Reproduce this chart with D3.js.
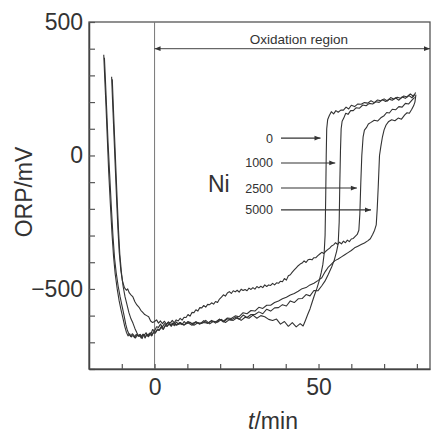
<!DOCTYPE html>
<html>
<head>
<meta charset="utf-8">
<script src="https://cdn.jsdelivr.net/npm/d3@7"></script>
<style>
  body { margin: 0; background: #fff; }
  svg { display: block; }
  text { font-family: "Liberation Sans", Arial, sans-serif; fill: #333; }
</style>
</head>
<body>
<div id="chart"></div>
<script>
// ORP vs time for different Ni additions, [t (min), ORP (mV)]
const ni0 = [
  [-15.5,377],[-15.2,290],[-14.8,180],[-14.4,60],[-14.0,-60],[-13.5,-180],[-13.0,-290],[-12.5,-380],
  [-12.0,-445],[-11.4,-500],[-10.8,-545],[-10.2,-580],[-9.6,-612],[-9.1,-640],[-8.6,-662],[-8.1,-676],
  [-7.6,-668],[-7.1,-680],[-6.6,-674],[-6.1,-683],[-5.6,-670],[-5.1,-676],[-4.6,-672],[-4.1,-684],
  [-3.6,-670],[-3.1,-673],[-2.6,-664],[-2.1,-676],[-1.6,-666],[-1.1,-668],[-0.6,-652],[0,-658],
  [0.6,-642],[1.2,-644],[1.8,-632],[2.4,-643],[3.0,-630],[3.6,-634],[4.2,-624],[4.8,-636],
  [5.4,-629],[6.0,-638],[6.6,-624],[7.2,-631],[7.8,-626],[8.4,-634],[9.0,-622],[9.6,-630],
  [10.8,-625],[12.0,-636],[13.2,-627],[14.4,-629],[15.6,-618],[16.8,-631],[18.0,-621],[19.2,-625],
  [20.4,-614],[21.6,-626],[22.8,-615],[24.0,-618],[25.2,-607],[26.4,-618],[27.6,-606],[28.8,-610],
  [30.0,-598],[31.2,-610],[32.4,-600],[33.6,-604],[34.8,-614],[36.0,-618],[37.2,-613],[38.4,-632],
  [39.6,-622],[40.8,-640],[42.0,-626],[43.2,-642],[44.4,-630],[45.3,-639],[46.0,-618],[46.7,-596],
  [47.4,-575],[48.1,-548],[48.8,-522],[49.5,-498],[50.2,-470],[50.8,-440],[51.3,-410],[51.7,-370],
  [52.0,-300],[52.2,-150],[52.35,0],[52.5,100],[52.8,135],[53.3,150],[53.9,164],[54.6,156],
  [55.3,168],[56.0,162],[56.8,170],[57.6,170],[58.4,181],[59.2,174],[60.0,188],[61.0,183],
  [62.0,193],[63.0,192],[64.0,198],[65.0,196],[66.0,205],[67.0,198],[68.0,208],[69.0,205],
  [70.0,212],[71.0,204],[72.0,217],[73.0,211],[74.0,218],[75.0,214],[76.0,223],[77.0,219],
  [78.0,231],[79.0,221],[79.6,236]
];
const ni1000 = [
  [-15.3,366],[-15.0,285],[-14.6,170],[-14.2,50],[-13.7,-70],[-13.2,-190],[-12.7,-300],[-12.2,-385],
  [-11.7,-440],[-11.1,-490],[-10.5,-530],[-9.9,-565],[-9.3,-600],[-8.8,-632],[-8.3,-655],[-7.8,-670],
  [-7.3,-678],[-6.8,-668],[-6.3,-674],[-5.8,-684],[-5.3,-672],[-4.8,-678],[-4.3,-675],[-3.8,-686],
  [-3.3,-670],[-2.8,-680],[-2.3,-670],[-1.8,-677],[-1.3,-664],[-0.8,-674],[-0.3,-660],[0.3,-662],
  [0.9,-650],[1.5,-653],[2.1,-640],[2.7,-650],[3.3,-636],[3.9,-640],[4.5,-630],[5.1,-640],
  [5.7,-629],[6.6,-634],[7.8,-626],[9.0,-636],[10.2,-622],[11.4,-630],[12.6,-624],[13.8,-632],
  [15.0,-619],[16.2,-629],[17.4,-620],[18.6,-624],[19.8,-613],[21.0,-624],[22.2,-612],[23.4,-616],
  [24.6,-607],[25.8,-614],[27.0,-598],[28.2,-607],[29.4,-596],[30.6,-596],[31.8,-586],[33.0,-593],
  [34.2,-576],[35.4,-583],[36.6,-571],[37.8,-570],[39.0,-559],[40.2,-564],[41.4,-545],[42.6,-551],
  [43.8,-537],[45.0,-536],[46.2,-521],[47.4,-526],[48.6,-506],[49.8,-507],[51.0,-488],[52.0,-470],
  [53.0,-445],[54.0,-418],[54.8,-392],[55.5,-360],[56.0,-330],[56.3,-250],[56.5,-100],[56.7,20],
  [56.9,100],[57.2,128],[57.7,140],[58.3,158],[59.0,154],[59.8,168],[60.6,168],[61.5,179],
  [62.5,177],[63.5,189],[64.5,186],[65.5,195],[66.5,193],[67.5,201],[68.5,199],[69.5,209],
  [70.5,202],[71.5,211],[72.5,207],[73.5,216],[74.5,207],[75.5,219],[76.5,214],[77.5,225],
  [78.5,216],[79.2,228]
];
const ni2500 = [
  [-13.1,295],[-12.8,200],[-12.4,80],[-12.0,-40],[-11.6,-160],[-11.2,-270],[-10.8,-360],[-10.3,-430],
  [-9.8,-470],[-9.2,-495],[-8.6,-505],[-8.2,-500],[-7.7,-515],[-7.2,-522],[-6.6,-530],[-6.0,-548],
  [-5.4,-560],[-4.8,-568],[-4.2,-580],[-3.6,-588],[-3.0,-596],[-2.4,-600],[-1.8,-604],[-1.2,-620],
  [-0.6,-626],[0,-622],[0.6,-616],[1.2,-628],[1.8,-620],[2.4,-630],[3.0,-621],[3.6,-632],
  [4.2,-624],[4.8,-628],[5.4,-618],[6.0,-627],[6.6,-616],[7.2,-620],[7.8,-610],[8.4,-617],
  [9.0,-606],[9.6,-607],[10.2,-596],[10.8,-602],[11.4,-588],[12.0,-589],[12.6,-578],[13.2,-583],
  [13.8,-570],[14.4,-571],[15.0,-562],[15.6,-568],[16.2,-558],[16.8,-559],[17.4,-552],[18.0,-557],
  [18.6,-547],[19.2,-551],[19.8,-538],[20.4,-531],[21.0,-522],[21.6,-527],[22.2,-515],[22.8,-510],
  [23.4,-517],[24.0,-507],[24.6,-511],[25.2,-505],[25.8,-512],[26.4,-501],[27.0,-506],[27.6,-502],
  [28.2,-507],[28.8,-497],[29.4,-502],[30.0,-495],[30.6,-501],[31.2,-491],[31.8,-496],[32.4,-490],
  [33.0,-495],[33.6,-485],[34.2,-491],[34.8,-485],[35.4,-487],[36.0,-479],[36.6,-485],[37.2,-477],
  [37.8,-479],[38.4,-471],[39.0,-473],[39.6,-461],[40.2,-467],[40.8,-451],[41.4,-447],[42.0,-437],
  [42.6,-429],[43.2,-421],[43.8,-413],[44.4,-407],[45.0,-403],[45.6,-395],[46.2,-401],[46.8,-391],
  [47.4,-389],[48.0,-391],[48.6,-383],[49.2,-383],[49.8,-375],[50.4,-369],[51.0,-363],[51.6,-367],
  [52.2,-359],[52.8,-353],[53.4,-347],[54.0,-339],[54.6,-335],[55.2,-327],[55.8,-333],[56.4,-325],
  [57.0,-331],[57.6,-321],[58.2,-327],[58.8,-317],[59.4,-323],[60.0,-313],[60.6,-311],[61.2,-303],
  [61.8,-296],[62.3,-280],[62.6,-220],[62.9,-100],[63.2,0],[63.6,70],[64.0,95],[64.6,104],
  [65.2,118],[66.0,124],[67.0,132],[68.0,129],[69.0,141],[70.0,149],[70.8,161],[71.6,159],
  [72.5,173],[73.5,171],[74.5,183],[75.5,181],[76.5,195],[77.5,193],[78.5,207],[79.3,218]
];
const ni5000 = [
  [-12.9,285],[-12.6,190],[-12.2,70],[-11.8,-50],[-11.4,-170],[-11.0,-280],[-10.6,-370],[-10.1,-440],
  [-9.6,-490],[-9.0,-530],[-8.4,-560],[-7.8,-590],[-7.2,-612],[-6.6,-628],[-6.0,-648],[-5.4,-664],
  [-4.9,-676],[-4.4,-670],[-3.9,-678],[-3.4,-673],[-2.9,-684],[-2.4,-671],[-1.9,-679],[-1.4,-670],
  [-0.9,-676],[-0.4,-664],[0.2,-666],[0.8,-654],[1.4,-656],[2.0,-644],[2.6,-652],[3.2,-638],
  [3.8,-640],[4.4,-630],[5.0,-639],[5.6,-628],[6.6,-636],[7.8,-630],[9.0,-634],[10.2,-627],
  [11.4,-636],[12.6,-623],[13.8,-630],[15.0,-626],[16.2,-628],[17.4,-618],[18.6,-628],[19.8,-614],
  [21.0,-621],[22.2,-609],[23.4,-611],[24.6,-601],[25.8,-604],[27.0,-589],[28.2,-593],[29.4,-581],
  [30.6,-583],[31.8,-569],[33.0,-573],[34.2,-561],[35.4,-561],[36.6,-551],[37.8,-545],[39.0,-537],
  [40.2,-531],[41.4,-523],[42.6,-517],[43.8,-509],[45.0,-499],[46.2,-495],[47.4,-485],[48.6,-479],
  [49.8,-469],[51.0,-458],[52.0,-436],[53.0,-418],[54.0,-406],[55.0,-394],[56.0,-388],[57.0,-380],
  [58.0,-372],[59.0,-364],[60.0,-356],[61.0,-346],[62.0,-340],[63.0,-334],[64.0,-328],[65.0,-320],
  [65.8,-312],[66.5,-296],[67.1,-280],[67.6,-260],[67.9,-200],[68.2,-120],[68.6,0],[69.0,33],
  [69.5,70],[70.0,96],[70.6,114],[71.3,126],[72.3,134],[73.3,130],[74.3,140],[75.3,136],
  [76.3,152],[77.0,160],[77.7,158],[78.4,172],[79.0,186],[79.4,200],[79.7,228]
];
const series = [ni0, ni1000, ni2500, ni5000];

// Ni labels, the ORP level of each arrow and the time it points to
const niLabels = ["0", "1000", "2500", "5000"];
const niArrowY = [65, -28, -122, -204];
const niArrowEnd = [50.6, 55.1, 61.7, 66.0];

const yTicks = [-800, -700, -600, -500, -400, -300, -200, -100, 0, 100, 200, 300, 400, 500];
const yLabels = [-500, 0, 500];
const xTicks = [-10, 0, 10, 20, 30, 40, 50, 60, 70, 80];
const xLabels = [0, 50];

const width = 432, height = 433;
const svg = d3.select("#chart").append("svg")
  .attr("width", width).attr("height", height);

const x = d3.scaleLinear().domain([-20, 84]).range([89, 430]);
const y = d3.scaleLinear().domain([-800, 500]).range([369, 22]);

const defs = svg.append("defs");
defs.append("marker").attr("id", "head")
  .attr("viewBox", "0 0 10 10").attr("refX", 10).attr("refY", 5)
  .attr("markerWidth", 7).attr("markerHeight", 6)
  .attr("markerUnits", "userSpaceOnUse").attr("orient", "auto-start-reverse")
  .append("path").attr("d", "M0,1 L10,5 L0,9 Z").attr("fill", "#333");

// frame
svg.append("rect")
  .attr("x", x(-20)).attr("y", y(500))
  .attr("width", x(84) - x(-20)).attr("height", y(-800) - y(500))
  .attr("fill", "none").attr("stroke", "#555").attr("stroke-width", 1.3);

// t = 0 line
svg.append("line")
  .attr("x1", x(0)).attr("x2", x(0)).attr("y1", y(500)).attr("y2", y(-800))
  .attr("stroke", "#777").attr("stroke-width", 1);

// axes
const yAxis = svg.append("g")
  .attr("transform", `translate(${x(-20)},0)`)
  .call(d3.axisLeft(y).tickValues(yTicks).tickSize(-6).tickSizeOuter(0).tickPadding(6)
    .tickFormat(d => yLabels.includes(d) ? d3.format("")(d).replace("-", "\u2212") : ""));
const xAxis = svg.append("g")
  .attr("transform", `translate(0,${y(-800)})`)
  .call(d3.axisBottom(x).tickValues(xTicks).tickSize(-5).tickSizeOuter(0).tickPadding(10)
    .tickFormat(d => xLabels.includes(d) ? d : ""));
[yAxis, xAxis].forEach(g => {
  g.select(".domain").attr("stroke", "#444").attr("stroke-width", 1.5);
  g.selectAll(".tick line").attr("stroke", "#555").attr("stroke-width", 1.2);
  g.selectAll(".tick text").attr("font-size", 23).attr("fill", "#333")
    .attr("font-family", "'Liberation Sans', Arial, sans-serif");
});

// oxidation region arrow
svg.append("line")
  .attr("x1", x(0)).attr("x2", x(84)).attr("y1", y(400)).attr("y2", y(400))
  .attr("stroke", "#444").attr("stroke-width", 1)
  .attr("marker-start", "url(#head)").attr("marker-end", "url(#head)");
svg.append("text")
  .attr("x", x(44)).attr("y", y(400) - 5)
  .attr("text-anchor", "middle").attr("font-size", 13.5)
  .text("Oxidation region");

// curves
const line = d3.line().x(d => x(d[0])).y(d => y(d[1]));
svg.append("g").selectAll("path").data(series).join("path")
  .attr("d", line)
  .attr("fill", "none").attr("stroke", "#333").attr("stroke-width", 1.1)
  .attr("stroke-linejoin", "round");

// Ni labels and arrows
svg.append("text").attr("x", 208).attr("y", 192).attr("font-size", 23).text("Ni");
niLabels.forEach((lab, i) => {
  svg.append("text")
    .attr("x", 273).attr("y", y(niArrowY[i]) + 4.5)
    .attr("text-anchor", "end").attr("font-size", 12.5)
    .text(lab);
  svg.append("line")
    .attr("x1", 281).attr("x2", x(niArrowEnd[i]))
    .attr("y1", y(niArrowY[i])).attr("y2", y(niArrowY[i]))
    .attr("stroke", "#333").attr("stroke-width", 1.1)
    .attr("marker-end", "url(#head)");
});

// axis titles
svg.append("text")
  .attr("transform", "translate(32,192) rotate(-90)")
  .attr("text-anchor", "middle").attr("font-size", 23)
  .text("ORP/mV");
const xt = svg.append("text")
  .attr("x", 273).attr("y", 429)
  .attr("text-anchor", "middle").attr("font-size", 23);
xt.append("tspan").attr("font-style", "italic").text("t");
xt.append("tspan").text("/min");
</script>
</body>
</html>
